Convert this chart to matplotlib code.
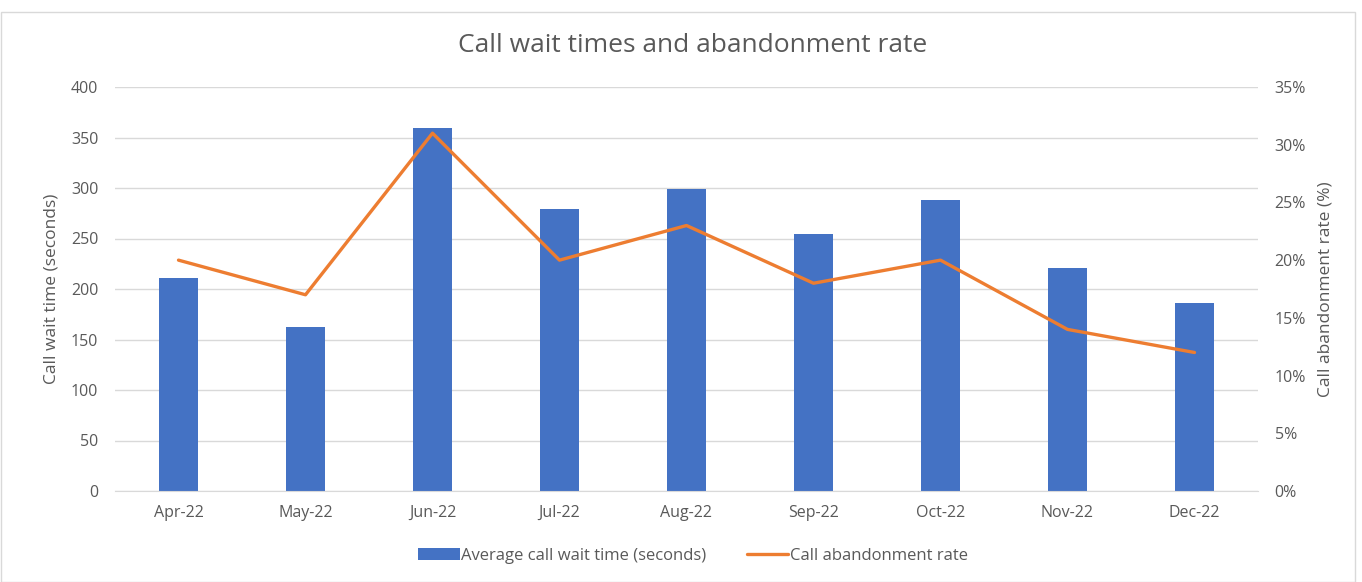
import matplotlib
matplotlib.use("agg")
import matplotlib.pyplot as plt
from matplotlib.patches import Rectangle
from matplotlib.ticker import FuncFormatter

plt.rcParams["font.family"] = ["Open Sans", "DejaVu Sans"]

months = ["Apr-22", "May-22", "Jun-22", "Jul-22", "Aug-22",
          "Sep-22", "Oct-22", "Nov-22", "Dec-22"]
wait_time = [211, 162, 359, 279, 299, 254, 288, 221, 186]
abandon_rate = [20, 17, 31, 20, 23, 18, 20, 14, 12]

text_color = "#595959"
grid_color = "#d9d9d9"

fig = plt.figure(figsize=(13.62, 5.82), dpi=100)
ax = fig.add_axes([115 / 1362, 1 - 491 / 582, 1143 / 1362, 404 / 582])
ax2 = ax.twinx()

x = range(len(months))
bars = ax.bar(x, wait_time, width=0.31, color="#4472C4",
              label="Average call wait time (seconds)", zorder=2)
line, = ax2.plot(x, abandon_rate, color="#ED7D31", linewidth=2.4,
                 label="Call abandonment rate", solid_joinstyle="round",
                 solid_capstyle="round")

ax.set_xlim(-0.5, len(months) - 0.5)
ax.set_ylim(0, 400)
ax.set_yticks(range(0, 401, 50))
ax2.set_ylim(0, 35)
ax2.set_yticks(range(0, 36, 5))
ax2.yaxis.set_major_formatter(FuncFormatter(lambda v, p: f"{v:.0f}%"))

ax.set_xticks(list(x))
ax.set_xticklabels(months)
ax.grid(axis="y", color=grid_color, linewidth=1, zorder=0)
ax.set_axisbelow(True)

for a in (ax, ax2):
    for name, spine in a.spines.items():
        spine.set_visible(name == "bottom" and a is ax)
    a.tick_params(axis="both", length=0, labelsize=11.5, labelcolor=text_color)
ax.spines["bottom"].set_color(grid_color)
ax.tick_params(axis="y", pad=12)
ax2.tick_params(axis="y", pad=12)
ax.tick_params(axis="x", pad=10)

ax.set_ylabel("Call wait time (seconds)", color=text_color, fontsize=12.5,
              labelpad=8)
ax2.set_ylabel("Call abandonment rate (%)", color=text_color, fontsize=12.5,
               labelpad=8)

fig.text(693 / 1362, 1 - 45 / 582, "Call wait times and abandonment rate",
         ha="center", va="center", fontsize=19, color=text_color)

fig.legend(handles=[bars, line], loc="center", ncol=2,
           bbox_to_anchor=(693 / 1362, 1 - 556 / 582), frameon=False,
           fontsize=12, labelcolor=text_color, handlelength=2.5,
           handletextpad=0.1, columnspacing=2.4)

fig.patches.append(Rectangle((0.5 / 1362, 0.5 / 582), 1 - 8 / 1362, 1 - 12 / 582,
                             transform=fig.transFigure, fill=False,
                             edgecolor="#d9d9d9", linewidth=1))

fig.savefig("out.png", dpi=100)
plt.close(fig)
